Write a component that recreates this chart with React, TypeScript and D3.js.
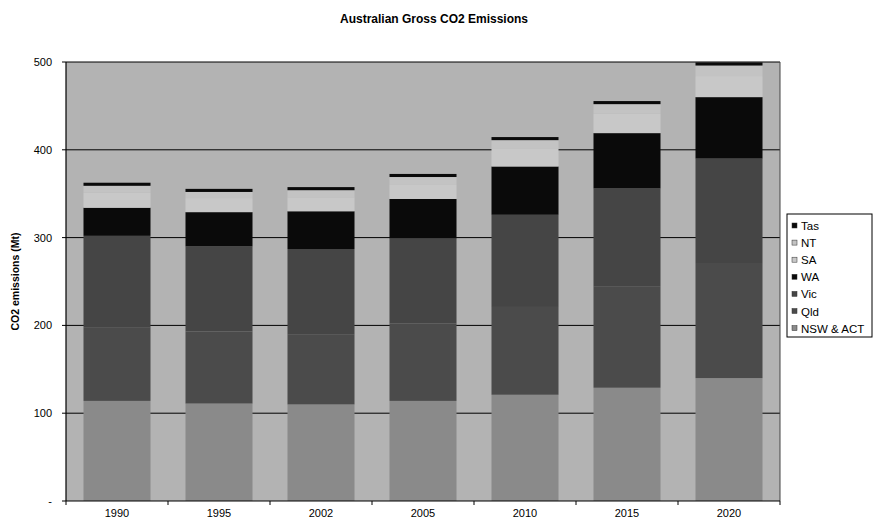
import React from "react";
import * as d3 from "d3";

const years = ["1990", "1995", "2002", "2005", "2010", "2015", "2020"];
const seriesNames = ["NSW & ACT", "Qld", "Vic", "WA", "SA", "NT", "Tas"];
const nswAct = [114, 111, 110, 114, 121, 129, 140];
const qld = [84, 82, 80, 88, 100, 115, 130];
const vic = [104, 97, 97, 97, 105, 112, 120];
const wa = [32, 39, 43, 45, 55, 63, 70];
const sa = [17, 16, 16, 16, 20, 22, 24];
const nt = [8, 7, 8, 9, 10, 11, 12];
const tas = [3.5, 3.5, 3.5, 3.5, 3.5, 3.5, 3.5];
const yTicks = [0, 100, 200, 300, 400, 500];
const colors = ["#8a8a8a", "#4b4b4b", "#454545", "#0a0a0a", "#c8c8c8", "#c3c3c3", "#0a0a0a"];

const W = 874, H = 521;
const left = 66, right = 780, top = 62, bottom = 501;
const font = "Arial, 'Liberation Sans', sans-serif";

export default function App() {
  const rows = years.map((y, i) => ({
    year: y,
    "NSW & ACT": nswAct[i], Qld: qld[i], Vic: vic[i], WA: wa[i], SA: sa[i], NT: nt[i], Tas: tas[i],
  }));
  const stack = d3.stack<any>().keys(seriesNames)(rows);
  const x = d3.scaleBand().domain(years).range([left, right]).paddingInner(0.343).paddingOuter(0.1715);
  const y = d3.scaleLinear().domain([0, 500]).range([bottom, top]);
  const step = x.step();
  const legendItems = [...seriesNames].reverse();

  return (
    <svg width={W} height={H} style={{ position: "absolute", left: 0, top: 0, background: "#fff" }}>
      <text x={434} y={23} textAnchor="middle" fontFamily={font} fontWeight="bold" fontSize={12}>
        Australian Gross CO2 Emissions
      </text>
      <rect x={left} y={top} width={right - left} height={bottom - top} fill="#b3b3b3" />
      {yTicks.filter((t) => t > 0).map((t) => (
        <line key={t} x1={left} x2={right} y1={y(t)} y2={y(t)} stroke="#000" strokeWidth={1} />
      ))}
      {stack.map((s, si) => (
        <g key={s.key} fill={colors[si]}>
          {s.map((d, i) => (
            <rect key={i} x={x(years[i])} y={y(d[1])} width={x.bandwidth()} height={y(d[0]) - y(d[1])} />
          ))}
        </g>
      ))}
      <line x1={right} x2={right} y1={top} y2={bottom} stroke="#444" strokeWidth={1} />
      {/* y axis */}
      <line x1={left} x2={left} y1={top} y2={bottom} stroke="#000" strokeWidth={1.2} />
      {yTicks.map((t) => (
        <g key={t}>
          <line x1={left - 4} x2={left} y1={y(t)} y2={y(t)} stroke="#000" />
          <text x={52} y={y(t) + 4} textAnchor="end" fontFamily={font} fontSize={11}>
            {t === 0 ? "-" : t}
          </text>
        </g>
      ))}
      {/* x axis */}
      <line x1={left} x2={right} y1={bottom} y2={bottom} stroke="#000" strokeWidth={1.2} />
      {years.map((yr, i) => (
        <g key={yr}>
          <line x1={left + step * i} x2={left + step * i} y1={bottom} y2={bottom + 4} stroke="#000" />
          <text x={(x(yr) as number) + x.bandwidth() / 2} y={517} textAnchor="middle" fontFamily={font} fontSize={11}>
            {yr}
          </text>
        </g>
      ))}
      <line x1={right} x2={right} y1={bottom} y2={bottom + 4} stroke="#000" />
      <text transform={`translate(19,${(top + bottom) / 2}) rotate(-90)`} textAnchor="middle" fontFamily={font} fontWeight="bold" fontSize={10.5}>
        CO2 emissions (Mt)
      </text>
      {/* legend */}
      <rect x={787} y={214} width={85} height={123} fill="#fff" stroke="#000" strokeWidth={1} />
      {legendItems.map((name, i) => {
        const ci = seriesNames.indexOf(name);
        const cy = 226 + i * 17.1;
        return (
          <g key={name}>
            <rect x={792} y={cy - 3} width={5} height={5} fill={colors[ci]} stroke="#333" strokeWidth={0.5} />
            <text x={801} y={cy + 4} fontFamily={font} fontSize={11.5}>
              {name}
            </text>
          </g>
        );
      })}
    </svg>
  );
}
